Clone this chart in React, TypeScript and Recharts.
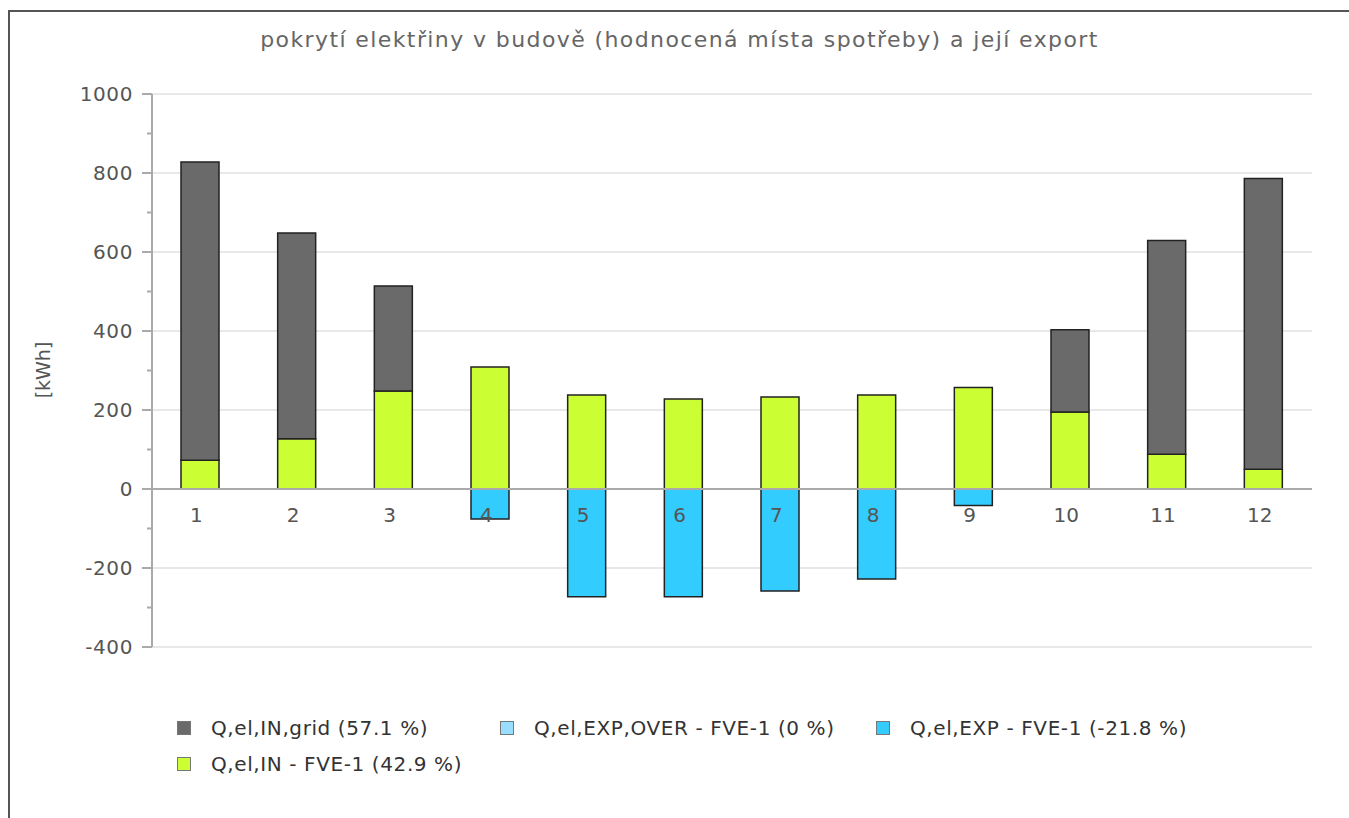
import React from 'react';
import { BarChart, Bar, XAxis, YAxis, CartesianGrid, ReferenceLine } from 'recharts';

const months = ['1', '2', '3', '4', '5', '6', '7', '8', '9', '10', '11', '12'];
const gridIn = [755, 521, 266, 0, 0, 0, 0, 0, 0, 208, 541, 736];
const fveIn = [73, 127, 248, 309, 238, 228, 233, 238, 257, 195, 88, 50];
const expOver = [0, 0, 0, 0, 0, 0, 0, 0, 0, 0, 0, 0];
const exp = [0, 0, 0, -76, -273, -273, -258, -228, -42, 0, 0, 0];

const yTicks = [-400, -300, -200, -100, 0, 100, 200, 300, 400, 500, 600, 700, 800, 900, 1000];
const gridValues = [-400, -200, 200, 400, 600, 800, 1000];

const series = [
  { key: 'grid', name: 'Q,el,IN,grid (57.1 %)', color: '#6a6a6a' },
  { key: 'expOver', name: 'Q,el,EXP,OVER - FVE-1 (0 %)', color: '#99ddff' },
  { key: 'exp', name: 'Q,el,EXP - FVE-1 (-21.8 %)', color: '#33ccff' },
  { key: 'fve', name: 'Q,el,IN - FVE-1 (42.9 %)', color: '#ccff33' },
];

const data = months.map((m, i) => ({
  month: m,
  grid: gridIn[i],
  fve: fveIn[i],
  expOver: expOver[i],
  exp: exp[i],
}));

const FONT = '"DejaVu Sans", sans-serif';
const W = 1330;
const H = 700;
const PLOT_H = 553;
// distance from plot bottom (-400) up to the zero line
const ZERO_UP = (PLOT_H * 400) / 1400;

const colorOf = (k: string) => series.find((s) => s.key === k)!.color;

const YTick = (props: any) => {
  const { x, y, payload } = props;
  const v = payload.value;
  const major = v % 200 === 0;
  const ax = x + 19;
  return (
    <g>
      <line x1={ax - (major ? 10 : 5)} x2={ax} y1={y} y2={y} stroke="#aaa" strokeWidth={2} />
      {major && (
        <text x={x} y={y} dy={7} textAnchor="end" fill="#555" fontSize={20} letterSpacing={0.6} fontFamily={FONT}>
          {v}
        </text>
      )}
    </g>
  );
};

const XTick = (props: any) => {
  const { x, y, payload } = props;
  return (
    <text x={x - 4} y={y - ZERO_UP + 33} textAnchor="middle" fill="#555" fontSize={20} fontFamily={FONT}>
      {payload.value}
    </text>
  );
};

export default function App() {
  return (
    <div
      style={{
        position: 'fixed',
        left: 8,
        top: 10,
        width: 1400,
        height: 900,
        borderLeft: '2px solid #555',
        borderTop: '2px solid #555',
        background: '#fff',
        fontFamily: FONT,
      }}
    >
      <div
        style={{
          position: 'absolute',
          top: 15,
          left: 0,
          width: 1339,
          textAlign: 'center',
          fontSize: 22,
          letterSpacing: 1.4,
          lineHeight: '26px',
          color: '#666',
        }}
      >
        pokrytí elektřiny v budově (hodnocená místa spotřeby) a její export
      </div>
      <div
        style={{
          position: 'absolute',
          left: 33 - 40,
          top: 358 - 12,
          width: 80,
          textAlign: 'center',
          transform: 'rotate(-90deg)',
          fontSize: 19,
          lineHeight: '24px',
          color: '#555',
        }}
      >
        [kWh]
      </div>
      <div style={{ position: 'absolute', left: 0, top: 0 }}>
        <BarChart
          width={W}
          height={H}
          data={data}
          stackOffset="sign"
          barSize={38}
          margin={{ top: 82, right: 28, left: 82, bottom: 35 }}
        >
          <CartesianGrid vertical={false} horizontalValues={gridValues} stroke="#e8e8e8" strokeWidth={2} />
          <XAxis
            dataKey="month"
            height={30}
            axisLine={false}
            tickLine={false}
            tickSize={0}
            tickMargin={0}
            tick={<XTick />}
            interval={0}
          />
          <YAxis
            width={60}
            domain={[-400, 1000]}
            ticks={yTicks}
            interval={0}
            allowDataOverflow
            axisLine={{ stroke: '#aaa', strokeWidth: 2 }}
            tickLine={false}
            tickSize={10}
            tickMargin={9}
            tick={<YTick />}
          />
          <Bar dataKey="fve" stackId="a" fill={colorOf('fve')} stroke="#222" strokeWidth={1.5} isAnimationActive={false} />
          <Bar dataKey="grid" stackId="a" fill={colorOf('grid')} stroke="#222" strokeWidth={1.5} isAnimationActive={false} />
          <Bar dataKey="exp" stackId="a" fill={colorOf('exp')} stroke="#222" strokeWidth={1.5} isAnimationActive={false} />
          <Bar dataKey="expOver" stackId="a" fill={colorOf('expOver')} stroke="#222" strokeWidth={1.5} isAnimationActive={false} />
          <ReferenceLine y={0} stroke="#aaa" strokeWidth={2} />
        </BarChart>
      </div>
      <div
        style={{
          position: 'absolute',
          left: 167,
          top: 698,
          display: 'grid',
          gridTemplateColumns: '323px 376px auto',
          fontSize: 20,
          letterSpacing: 0.6,
          lineHeight: '36px',
          color: '#333',
        }}
      >
        {series.map((s) => (
          <div key={s.key} style={{ display: 'flex', alignItems: 'center', whiteSpace: 'nowrap' }}>
            <span
              style={{
                display: 'inline-block',
                width: 12,
                height: 12,
                background: s.color,
                border: '1px solid #777',
                marginRight: 20,
              }}
            />
            <span>{s.name}</span>
          </div>
        ))}
      </div>
    </div>
  );
}
